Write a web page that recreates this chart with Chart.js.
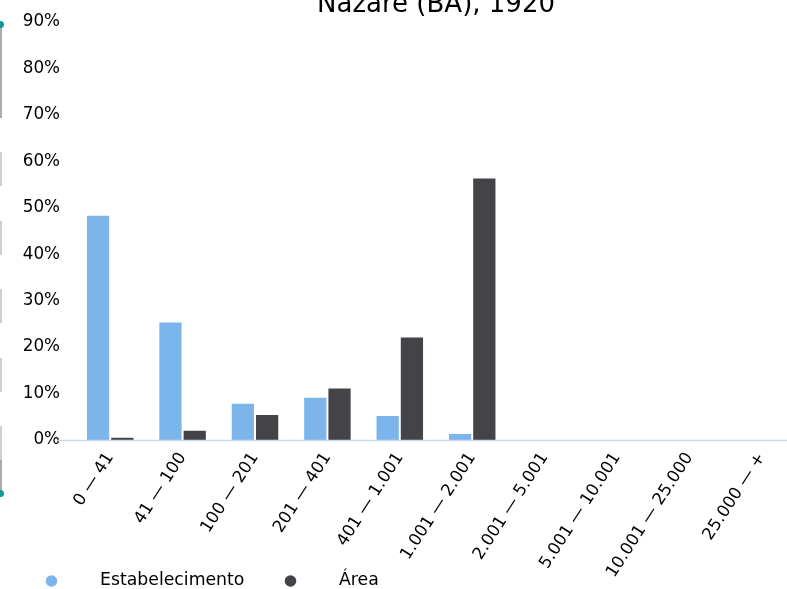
<!DOCTYPE html>
<html>
<head>
<meta charset="utf-8">
<script src="https://cdn.jsdelivr.net/npm/chart.js@4"></script>
<style>
html, body { margin: 0; padding: 0; background: #fff; overflow: hidden; }
#wrap { position: relative; width: 872px; height: 589px; }
#c { position: absolute; left: 0; top: 0; }
.edge { position: absolute; left: 0; width: 2px; background: #cfcfcf; }
.edge.dark { background: #aaa; }
.knob { position: absolute; left: -3px; width: 7px; height: 7px; border-radius: 50%; background: #0f9a96; }
</style>
</head>
<body>
<div id="wrap">
  <canvas id="c"></canvas>
  <div class="edge dark" style="top:24px;height:94px"></div>
  <div class="knob" style="top:21px"></div>
  <div class="edge" style="top:152px;height:34px"></div>
  <div class="edge" style="top:221px;height:34px"></div>
  <div class="edge" style="top:289px;height:34px"></div>
  <div class="edge" style="top:358px;height:34px"></div>
  <div class="edge" style="top:426px;height:34px"></div>
  <div class="edge dark" style="top:460px;height:32px"></div>
  <div class="knob" style="top:490px"></div>
</div>
<script>
const chartTitle = 'Nazaré (BA), 1920';
const categories = ['0 — 41', '41 — 100', '100 — 201', '201 — 401', '401 — 1.001',
  '1.001 — 2.001', '2.001 — 5.001', '5.001 — 10.001', '10.001 — 25.000', '25.000 — +'];
const estabelecimento = [48.5, 25.5, 8.0, 9.3, 5.4, 1.5, 0, 0, 0, 0];
const area = [0.7, 2.2, 5.6, 11.3, 22.3, 56.5, 0, 0, 0, 0];
const seriesNames = ['Estabelecimento', 'Área'];
const seriesColors = ['#7cb5ec', '#434348'];

const FONT = "'DejaVu Sans', sans-serif";
const TICK_SIZE = 16.8;

// title centred over the plot area, partly clipped at the top like the original
const titlePlugin = {
  id: 'plotTitle',
  afterDraw(chart) {
    const { ctx, chartArea } = chart;
    ctx.save();
    ctx.font = '26px ' + FONT;
    ctx.fillStyle = '#000';
    ctx.textAlign = 'center';
    ctx.textBaseline = 'alphabetic';
    ctx.fillText(chartTitle, (chartArea.left + chartArea.right) / 2, 12);
    ctx.restore();
  }
};

// bottom axis line, running a bit past the plot on the left
const axisLinePlugin = {
  id: 'axisLine',
  afterDatasetsDraw(chart) {
    const { ctx, chartArea, width } = chart;
    ctx.save();
    ctx.strokeStyle = '#ccd6eb';
    ctx.lineWidth = 1.5;
    ctx.beginPath();
    ctx.moveTo(58, chartArea.bottom + 0.5);
    ctx.lineTo(width, chartArea.bottom + 0.5);
    ctx.stroke();
    ctx.restore();
  }
};

// legend: dots with a wide gap before the label
const legendPlugin = {
  id: 'dotLegend',
  afterDraw(chart) {
    const { ctx } = chart;
    const items = [{ x: 51.5 }, { x: 290.5 }];
    ctx.save();
    ctx.font = '17.3px ' + FONT;
    ctx.textBaseline = 'middle';
    ctx.textAlign = 'left';
    chart.data.datasets.forEach((ds, i) => {
      const cx = items[i].x;
      ctx.fillStyle = ds.backgroundColor;
      ctx.beginPath();
      ctx.arc(cx, 581, 5.8, 0, Math.PI * 2);
      ctx.fill();
      ctx.fillStyle = '#000';
      ctx.fillText(ds.label, cx + 48.5, 581);
    });
    ctx.restore();
  }
};

const canvas = document.getElementById('c');
canvas.width = 872;
canvas.height = 589;
canvas.style.width = '872px';
canvas.style.height = '589px';

new Chart(canvas, {
  type: 'bar',
  data: {
    labels: categories,
    datasets: [
      { label: seriesNames[0], data: estabelecimento, backgroundColor: seriesColors[0] },
      { label: seriesNames[1], data: area, backgroundColor: seriesColors[1] },
    ],
  },
  options: {
    responsive: false,
    animation: false,
    devicePixelRatio: 1,
    layout: { padding: { top: 22, right: 74, bottom: 0, left: 0 } },
    datasets: {
      bar: {
        categoryPercentage: 0.67,
        barPercentage: 1,
        borderWidth: 1,
        borderColor: '#ffffff',
        borderSkipped: 'bottom',
      },
    },
    scales: {
      x: {
        grid: { display: false },
        border: { display: false },
        ticks: {
          color: '#000',
          font: { family: FONT, size: TICK_SIZE },
          minRotation: 57,
          maxRotation: 57,
          autoSkip: false,
          padding: 1,
        },
        afterFit(scale) { scale.height = 149; },
      },
      y: {
        min: 0,
        max: 90,
        grid: { display: false },
        border: { display: false },
        ticks: {
          stepSize: 10,
          color: '#000',
          font: { family: FONT, size: TICK_SIZE },
          padding: 6,
          callback: (v) => v + '%',
        },
        afterFit(scale) { scale.width = 74; },
      },
    },
    plugins: {
      legend: { display: false },
      tooltip: { enabled: false },
    },
  },
  plugins: [titlePlugin, axisLinePlugin, legendPlugin],
});
</script>
</body>
</html>
